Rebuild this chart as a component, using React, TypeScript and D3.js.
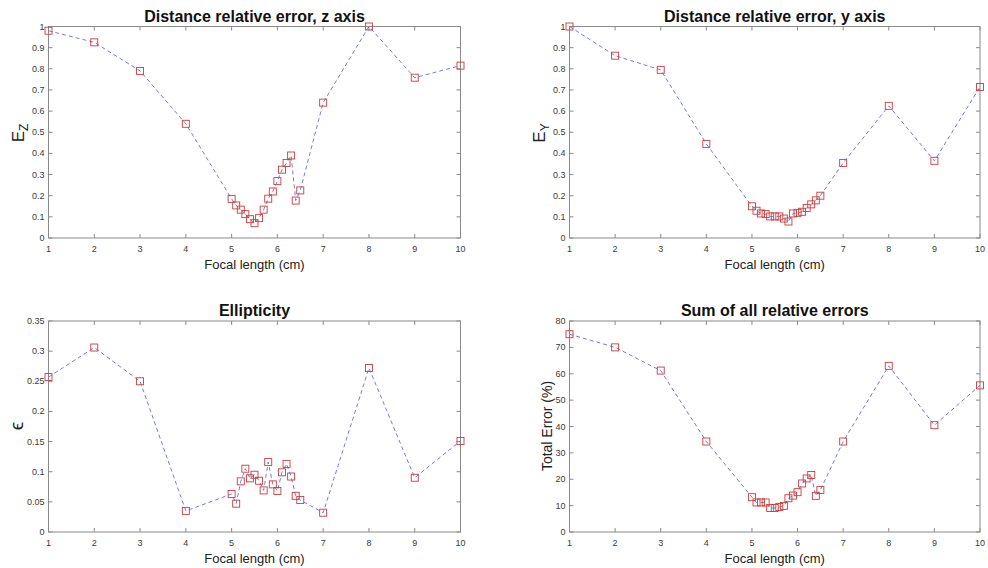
import React from "react";
import * as d3 from "d3";

// focal lengths (cm) used for every panel
const focal = [1, 2, 3, 4, 5, 5.1, 5.2, 5.3, 5.4, 5.5, 5.6, 5.7, 5.8, 5.9, 6, 6.1, 6.2, 6.3, 6.4, 6.5, 7, 8, 9, 10];

const errZ = [0.98, 0.925, 0.79, 0.54, 0.185, 0.154, 0.134, 0.113, 0.089, 0.07, 0.094, 0.134, 0.186, 0.22, 0.269, 0.323, 0.355, 0.39, 0.177, 0.225, 0.64, 1.0, 0.758, 0.815];
const errY = [1.0, 0.862, 0.795, 0.445, 0.15, 0.129, 0.116, 0.113, 0.102, 0.102, 0.102, 0.092, 0.078, 0.116, 0.119, 0.124, 0.142, 0.159, 0.178, 0.2, 0.355, 0.625, 0.365, 0.714];
const ellip = [0.257, 0.306, 0.25, 0.035, 0.063, 0.047, 0.084, 0.105, 0.089, 0.095, 0.085, 0.069, 0.116, 0.079, 0.068, 0.099, 0.113, 0.092, 0.06, 0.053, 0.032, 0.272, 0.09, 0.151];
const totalErr = [75.0, 70.0, 61.2, 34.3, 13.2, 11.2, 11.2, 11.2, 9.1, 9.1, 9.5, 9.9, 12.8, 13.8, 15.1, 18.4, 20.3, 21.6, 13.7, 15.9, 34.3, 63.0, 40.5, 55.6];

const xTicks = [1, 2, 3, 4, 5, 6, 7, 8, 9, 10];
const ticks01 = [0, 0.1, 0.2, 0.3, 0.4, 0.5, 0.6, 0.7, 0.8, 0.9, 1];
const ticksEll = [0, 0.05, 0.1, 0.15, 0.2, 0.25, 0.3, 0.35];
const ticksTot = [0, 10, 20, 30, 40, 50, 60, 70, 80];

const FONT = "'Liberation Sans', Arial, Helvetica, sans-serif";
const AX = "#8a8a8a";
const TXT = "#3a3a3a";

type PanelProps = {
  left: number; right: number; top: number; bottom: number;
  values: number[]; yMax: number; yTicks: number[];
  title: string; ylabel: React.ReactNode;
};

const Panel = ({ left, right, top, bottom, values, yMax, yTicks, title, ylabel }: PanelProps) => {
  const x = d3.scaleLinear().domain([1, 10]).range([left, right]);
  const y = d3.scaleLinear().domain([0, yMax]).range([bottom, top]);
  const line = d3.line<number>().x((d, i) => x(focal[i])).y((d) => y(d));
  const tl = 4;
  const fmt = (v: number) => String(v);

  return (
    <g fontFamily={FONT}>
      <rect x={left} y={top} width={right - left} height={bottom - top} fill="white" stroke={AX} strokeWidth={1} />
      {xTicks.map((t) => (
        <g key={"x" + t}>
          <line x1={x(t)} x2={x(t)} y1={bottom} y2={bottom - tl} stroke={AX} />
          <line x1={x(t)} x2={x(t)} y1={top} y2={top + tl} stroke={AX} />
          <text x={x(t)} y={bottom + 14} fontSize={9} textAnchor="middle" fill={TXT}>{t}</text>
        </g>
      ))}
      {yTicks.map((t) => (
        <g key={"y" + t}>
          <line x1={left} x2={left + tl} y1={y(t)} y2={y(t)} stroke={AX} />
          <line x1={right} x2={right - tl} y1={y(t)} y2={y(t)} stroke={AX} />
          <text x={left - 4} y={y(t) + 3} fontSize={9} textAnchor="end" fill={TXT}>{fmt(t)}</text>
        </g>
      ))}
      <path d={line(values) || ""} fill="none" stroke="#5a5acc" strokeWidth={1} strokeDasharray="4,3" opacity={0.8} />
      {values.map((v, i) => (
        <rect key={i} x={x(focal[i]) - 3.5} y={y(v) - 3.5} width={7} height={7} fill="none" stroke="#cc3b3b" strokeWidth={0.9} />
      ))}
      <text x={(left + right) / 2} y={top - 5} fontSize={16} fontWeight="bold" textAnchor="middle" fill="#111">{title}</text>
      <text x={(left + right) / 2} y={bottom + 31} fontSize={13} textAnchor="middle" fill="#222">Focal length (cm)</text>
      {ylabel}
    </g>
  );
};

const App = () => {
  const W = 988, H = 568;
  return (
    <svg width={W} height={H} style={{ position: "absolute", left: 0, top: 0, background: "white" }}>
      <rect width={W} height={H} fill="white" />
      <Panel left={48.5} right={460.5} top={26.5} bottom={238} values={errZ} yMax={1} yTicks={ticks01}
        title="Distance relative error, z axis"
        ylabel={<text transform="translate(24,133) rotate(-90)" fontSize={17} textAnchor="middle" fill="#222" fontFamily={FONT}>E<tspan fontSize={12} dy={4}>Z</tspan></text>} />
      <Panel left={569.5} right={980} top={26.5} bottom={238} values={errY} yMax={1} yTicks={ticks01}
        title="Distance relative error, y axis"
        ylabel={<text transform="translate(545,133) rotate(-90)" fontSize={17} textAnchor="middle" fill="#222" fontFamily={FONT}>E<tspan fontSize={12} dy={4}>Y</tspan></text>} />
      <Panel left={48.5} right={460.5} top={321} bottom={532} values={ellip} yMax={0.35} yTicks={ticksEll}
        title="Ellipticity"
        ylabel={<text transform="translate(23,426) rotate(-90)" fontSize={19} textAnchor="middle" fill="#222" fontFamily={FONT}>ϵ</text>} />
      <Panel left={569.5} right={980} top={321} bottom={532} values={totalErr} yMax={80} yTicks={ticksTot}
        title="Sum of all relative errors"
        ylabel={<text transform="translate(552,426) rotate(-90)" fontSize={14} textAnchor="middle" fill="#222" fontFamily={FONT}>Total Error (%)</text>} />
    </svg>
  );
};

export default App;
